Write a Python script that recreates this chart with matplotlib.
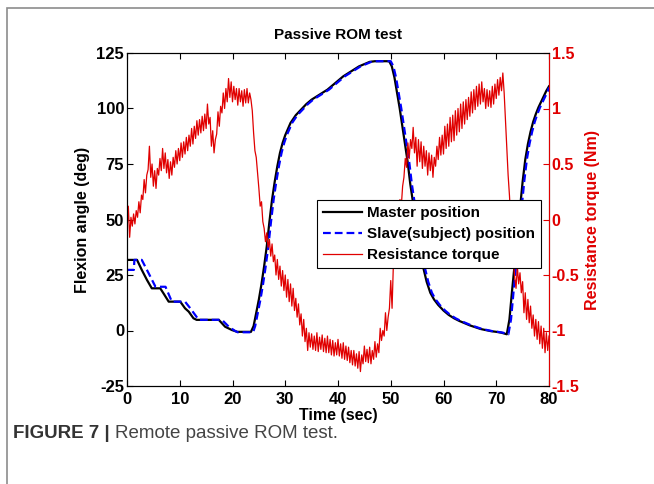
import matplotlib
matplotlib.use("Agg")
import matplotlib.pyplot as plt
from matplotlib.patches import Rectangle
import numpy as np

plt.rcParams['font.family'] = ['Liberation Sans', 'DejaVu Sans']
plt.rcParams['font.weight'] = 'bold'
plt.rcParams['axes.unicode_minus'] = False

# master (black) position, deg
master_t = [0, 1.9, 2.8, 3.8, 4.7, 6.3, 6.9, 7.9, 10.1, 11.0, 11.7, 12.6, 13.2, 17.4,
            18.6, 19.9, 20.9, 23.5, 24.0, 24.5, 25.0, 25.5, 26.0, 26.5, 27.0, 27.5,
            28.0, 28.5, 29.0, 29.5, 30.0, 31, 32, 33, 34, 35, 36, 37, 38, 39, 40,
            41, 42, 43, 44, 45, 46, 47, 49.7, 50.2, 50.7, 51.2, 51.7, 52.2, 52.7,
            53.2, 53.7, 54.2, 54.7, 55.2, 55.7, 56.2, 56.8, 57.5, 58.2, 59, 60, 61,
            62, 63, 64, 65, 66, 67, 68, 69, 70, 71, 72.0, 72.5, 73.0, 73.5, 74.0,
            74.5, 75.0, 75.5, 76.0, 76.5, 77.0, 77.5, 78.0, 78.5, 79.0, 79.5, 80]
master_deg = [31.8, 31.8, 27.3, 22.7, 19.0, 19.0, 16.8, 13.0, 13.0, 10.0, 8.5, 5.5, 4.8, 4.8,
              1.7, 0.2, -0.6, -0.6, 2, 8, 14, 21, 29, 38, 49, 59,
              67, 74, 80, 84.5, 88, 93.5, 97, 99.5, 102, 104, 105.5, 107, 108.5, 110.5, 112.5,
              114.5, 116, 117.5, 119, 120, 121, 121.3, 121.3, 119, 114, 107, 100, 92, 84,
              76, 66, 58, 50, 42, 34, 28, 22, 17, 14, 11.5, 9, 7,
              5.5, 4.3, 3.3, 2.3, 1.5, 0.7, 0.2, -0.3, -0.6, -1.0, -1.7, 5, 18, 30, 42,
              55, 67, 77, 84, 89.5, 94, 97.5, 100.5, 103, 105.5, 108, 110]

# slave (subject) position, deg
slave_t = [0, 1.3, 1.4, 2.8, 4.1, 5.4, 7.3, 8.5, 11.0, 12.0, 13.6, 18.0, 19.3, 20.5, 21.0,
           23.9, 24.3, 24.8, 25.3, 25.8, 26.3, 26.8, 27.3, 27.8, 28.3, 28.8, 29.3,
           29.8, 30.3, 31.3, 32.3, 33.3, 34.3, 35.3, 36.3, 37.3, 38.3, 39.3, 40.3,
           41.3, 42.3, 43.3, 44.3, 45.3, 46.3, 47.3, 50.0, 50.5, 51.0, 51.5, 52.0,
           52.5, 53.0, 53.5, 54.0, 54.5, 55.0, 55.5, 56.0, 56.5, 57.1, 57.8, 58.5,
           59.3, 60.3, 61.3, 62.3, 63.3, 64.3, 65.3, 66.3, 67.3, 68.3, 69.3, 70.3,
           71.3, 72.3, 72.8, 73.3, 73.8, 74.3, 74.8, 75.3, 75.8, 76.3, 76.8, 77.3,
           77.8, 78.3, 78.8, 79.3, 79.8, 80]
slave_deg = [27.3, 27.3, 31.8, 31.8, 25.8, 19.7, 19.7, 13.0, 13.0, 10.0, 4.8, 4.8, 1.7, -0.2, -0.8,
             -0.8, 2, 8, 14, 21, 29, 38, 49, 59, 67, 74, 80,
             84.5, 88, 93.5, 97, 99.5, 102, 104, 105.5, 107, 108.5, 110.5, 112.5,
             114.5, 116, 117.5, 119, 120, 121, 121.3, 121.3, 119, 114, 107, 100,
             92, 84, 76, 66, 58, 50, 42, 34, 28, 22, 17, 14,
             11.5, 9, 7, 5.5, 4.3, 3.3, 2.3, 1.5, 0.7, 0.2, -0.3, -0.6,
             -1.0, -1.7, 5, 18, 30, 42, 55, 67, 77, 84, 89.5, 94,
             97.5, 100.5, 103, 105.5, 108, 109.5]

# resistance torque (Nm), one value every 0.25 s, rows = 1 s
torque = [
    -0.10, 0.12, -0.16, 0.02,
    -0.06, 0.05, -0.04, 0.08,
    0.02, 0.16, 0.06, 0.22,
    0.18, 0.36, 0.24, 0.40,
    0.45, 0.66, 0.38, 0.50,
    0.30, 0.44, 0.28, 0.46,
    0.40, 0.55, 0.44, 0.64,
    0.46, 0.60, 0.42, 0.54,
    0.37, 0.52, 0.40, 0.56,
    0.47, 0.62, 0.50, 0.64,
    0.53, 0.69, 0.56, 0.70,
    0.59, 0.74, 0.62, 0.76,
    0.66, 0.82, 0.68, 0.84,
    0.73, 0.89, 0.76, 0.90,
    0.78, 0.93, 0.80, 0.95,
    0.82, 1.04, 0.86, 0.92,
    0.66, 0.80, 0.60, 0.72,
    0.77, 0.97, 0.84, 1.02,
    0.96, 1.14, 1.00, 1.18,
    1.06, 1.27, 1.10, 1.24,
    1.06, 1.20, 1.08, 1.18,
    1.03, 1.18, 1.06, 1.16,
    1.02, 1.17, 1.05, 1.18,
    1.05, 1.14, 1.08, 0.98,
    0.78, 0.62, 0.56, 0.42,
    0.28, 0.12, 0.16, -0.02,
    -0.08, -0.20, -0.12, -0.25,
    -0.18, -0.33, -0.22, -0.38,
    -0.32, -0.50, -0.36, -0.54,
    -0.42, -0.60, -0.46, -0.64,
    -0.50, -0.70, -0.54, -0.74,
    -0.58, -0.78, -0.62, -0.82,
    -0.71, -0.88, -0.76, -0.95,
    -0.85, -1.05, -0.90, -1.10,
    -0.98, -1.18, -1.02, -1.15,
    -1.03, -1.17, -1.05, -1.18,
    -1.02, -1.19, -1.06, -1.17,
    -1.04, -1.19, -1.07, -1.20,
    -1.05, -1.20, -1.08, -1.22,
    -1.09, -1.23, -1.11, -1.22,
    -1.08, -1.23, -1.12, -1.25,
    -1.11, -1.26, -1.14, -1.27,
    -1.15, -1.29, -1.18, -1.31,
    -1.18, -1.32, -1.21, -1.34,
    -1.19, -1.37, -1.22, -1.30,
    -1.14, -1.28, -1.17, -1.29,
    -1.15, -1.30, -1.18, -1.26,
    -1.10, -1.24, -1.12, -1.20,
    -0.98, -1.09, -1.00, -1.05,
    -0.84, -1.00, -0.88, -0.80,
    -0.55, -0.80, -0.40, -0.25,
    -0.18, 0.04, -0.05, 0.18,
    0.12, 0.30, 0.38, 0.55,
    0.47, 0.69, 0.55, 0.72,
    0.64, 0.83, 0.60, 0.74,
    0.48, 0.72, 0.52, 0.70,
    0.46, 0.66, 0.48, 0.62,
    0.40, 0.60, 0.44, 0.58,
    0.38, 0.56, 0.48, 0.66,
    0.54, 0.74, 0.58, 0.76,
    0.59, 0.84, 0.64, 0.86,
    0.66, 0.92, 0.70, 0.94,
    0.71, 0.98, 0.76, 1.00,
    0.79, 1.04, 0.82, 1.06,
    0.86, 1.08, 0.90, 1.10,
    0.93, 1.15, 0.96, 1.17,
    0.99, 1.20, 1.02, 1.22,
    1.04, 1.24, 1.06, 1.18,
    1.00, 1.17, 1.02, 1.16,
    1.01, 1.20, 1.04, 1.22,
    1.09, 1.26, 1.12, 1.28,
    1.16, 1.32, 1.14, 0.90,
    0.66, 0.40, 0.22, 0.00,
    -0.20, -0.38, -0.52, -0.62,
    -0.42, -0.58, -0.48, -0.66,
    -0.56, -0.84, -0.66, -0.90,
    -0.72, -0.93, -0.78, -0.98,
    -0.86, -1.05, -0.90, -1.08,
    -0.92, -1.12, -0.96, -1.16,
    -0.98, -1.20, -1.02, -1.18,
    -1.05,
]
torque_t = np.arange(len(torque)) * 0.25

x_ticks = [0, 10, 20, 30, 40, 50, 60, 70, 80]
left_ticks = [-25, 0, 25, 50, 75, 100, 125]
right_ticks = [-1.5, -1, -0.5, 0, 0.5, 1, 1.5]
right_labels = ['-1.5', '-1', '-0.5', '0', '0.5', '1', '1.5']

red = '#e00000'

fig = plt.figure(figsize=(6.54, 4.84), dpi=100)
# grey frame of the figure panel (only top and left edges visible)
fig.add_artist(Rectangle((7, -30), 700, 506, transform=None, fill=False,
                         edgecolor='#8c8c8c', linewidth=1.2))

ax = fig.add_axes([127 / 654, 98 / 484, 422 / 654, 333 / 484])
l1, = ax.plot(master_t, master_deg, color='black', lw=1.6, label='Master position')
l2, = ax.plot(slave_t, slave_deg, color='blue', lw=1.6, ls=(0, (3.5, 1.8)),
              label='Slave(subject) position')
ax.set_xlim(0, 80)
ax.set_ylim(-25, 125)
ax.set_xticks(x_ticks)
ax.set_yticks(left_ticks)
ax.tick_params(direction='in', length=4, labelsize=12, top=True, right=False)
ax.tick_params(axis='x', pad=4)
ax.tick_params(axis='y', pad=2)
ax.set_xlabel('Time (sec)', fontsize=11.5, fontweight='bold', labelpad=1)
ax.set_ylabel('Flexion angle (deg)', fontsize=11.5, fontweight='bold', labelpad=5)
ax.set_title('Passive ROM test', fontsize=11, fontweight='bold', pad=10)

ax2 = ax.twinx()
l3, = ax2.plot(torque_t, torque, color=red, lw=0.9, label='Resistance torque')
ax2.set_ylim(-1.5, 1.5)
ax2.set_yticks(right_ticks)
ax2.set_yticklabels(right_labels)
ax2.tick_params(direction='in', length=4, labelsize=11.5, colors=red, pad=2)
ax2.spines['right'].set_color(red)
ax2.set_ylabel('Resistance torque (Nm)', fontsize=11.5, fontweight='bold',
               color=red, labelpad=4)

leg = ax2.legend(handles=[l1, l2, l3], loc='upper right',
                 bbox_to_anchor=(414 / 422, 186 / 333), fontsize=11,
                 fancybox=False, framealpha=1, edgecolor='black',
                 handlelength=2.5, handletextpad=0.35, labelspacing=0.45,
                 borderpad=0.4, borderaxespad=0)
leg.get_frame().set_linewidth(0.8)

cap_y = 1 - 434 / 484
t1 = fig.text(13 / 654, cap_y, 'FIGURE 7 |', fontsize=13.5, fontweight='bold',
              color='#333333', va='center')
fig.canvas.draw()
bb = t1.get_window_extent()
fig.text((bb.x1 + 5) / 654, cap_y, 'Remote passive ROM test.', fontsize=13.5,
         fontweight='normal', color='#444444', va='center')

fig.savefig('out.png', dpi=100)
